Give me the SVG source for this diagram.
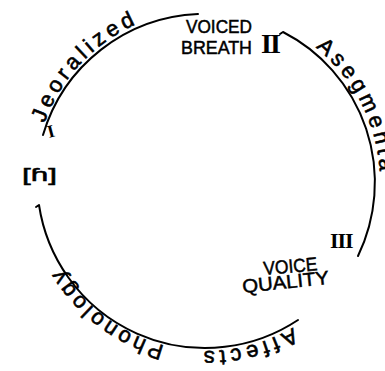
<svg xmlns="http://www.w3.org/2000/svg" width="385" height="371" viewBox="0 0 385 371">
<style>
.arc{fill:none;stroke:#000;stroke-width:2;stroke-linecap:round;stroke-linejoin:round}
.lc{font-family:"Liberation Sans","DejaVu Sans",sans-serif;font-size:22px;fill:#000;stroke:#000;stroke-width:0.6px}
.cap{font-family:"Liberation Sans","DejaVu Sans",sans-serif;font-size:19px;fill:#000;stroke:#000;stroke-width:0.5px}
.rn{font-family:"Liberation Serif","DejaVu Serif",serif;font-weight:bold;fill:#000}
</style>
<defs>
<path id="ring" d="M 34 182 A 173 173 0 1 1 380 182 A 173 173 0 1 1 34 182"/>
<path id="ringlow" d="M 38 182 A 169 169 0 1 1 376 182 A 169 169 0 1 1 38 182"/>
</defs>
<rect width="385" height="371" fill="#fff"/>
<g id="connectors">
<path class="arc" d="M 43 135 A 169 169 0 0 1 198 14"/>
<path class="arc" d="M 280 34 L 283 32 A 169 169 0 0 1 358 256"/>
<path class="arc" d="M 298 320 A 168 168 0 0 1 39 205 l -3 2"/>
</g>
<g id="label-devoralized">
<text class="lc" style="letter-spacing:4.2px"><textPath href="#ring" startOffset="60">Jeoralized</textPath></text>
</g>
<g id="label-asegmental">
<text class="lc" style="letter-spacing:4px"><textPath href="#ring" startOffset="389">Asegmenta</textPath></text>
</g>
<g id="label-affects">
<text class="lc" style="letter-spacing:4.4px"><textPath href="#ringlow" startOffset="706">Affects</textPath></text>
</g>
<g id="label-phonology">
<text class="lc" style="letter-spacing:3.4px"><textPath href="#ringlow" startOffset="839">Phonology</textPath></text>
</g>
<g id="node-I">
<text class="rn" font-size="18" transform="translate(49 138) rotate(-15)">I</text>
</g>
<g id="node-II">
<text class="rn" font-size="28" x="261" y="53" letter-spacing="-2">II</text>
<text class="cap" x="186" y="33" textLength="66" lengthAdjust="spacingAndGlyphs">VOICED</text>
<text class="cap" x="181" y="54" textLength="71" lengthAdjust="spacingAndGlyphs">BREATH</text>
</g>
<g id="node-III">
<text class="rn" font-size="22" x="330" y="248" letter-spacing="-1">III</text>
</g>
<g id="node-voice-quality">
<text class="cap" transform="translate(264 275) rotate(-5)" textLength="54" lengthAdjust="spacingAndGlyphs">VOICE</text>
<text class="cap" transform="translate(243 293) rotate(-6)" textLength="87" lengthAdjust="spacingAndGlyphs">QUALITY</text>
</g>
<g id="node-h">
<text class="cap" font-size="21" x="22" y="181" textLength="35" lengthAdjust="spacingAndGlyphs">[ɦ]</text>
</g>
</svg>
